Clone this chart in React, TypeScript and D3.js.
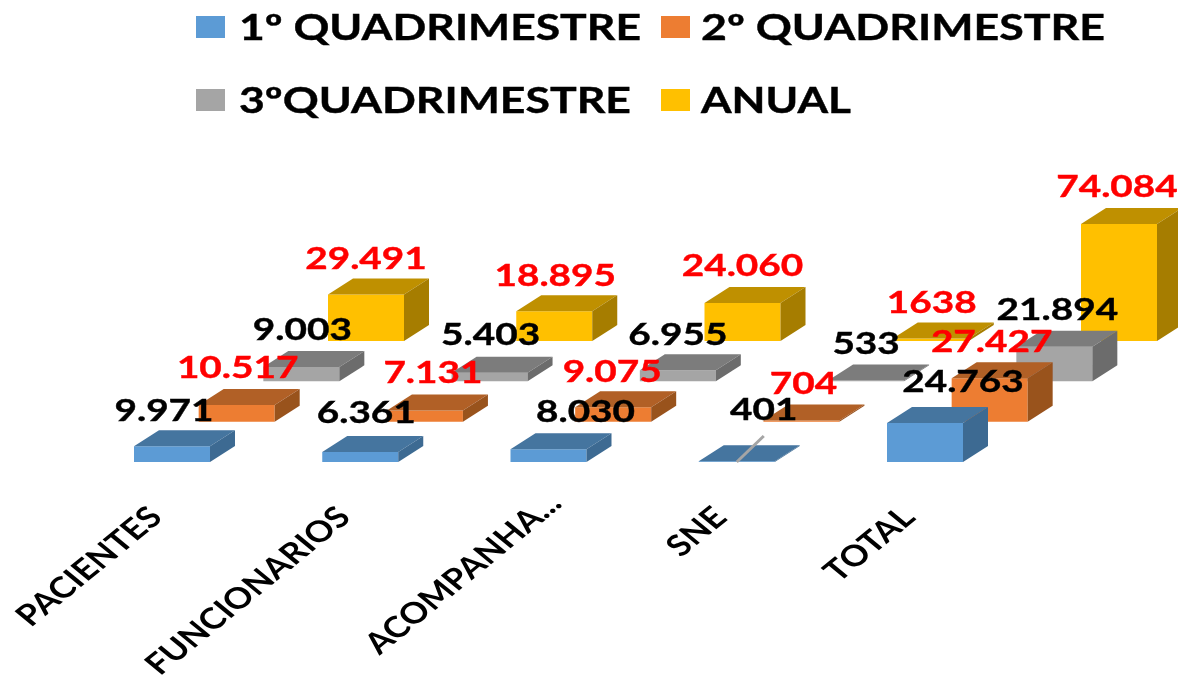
import React from "react";
import * as d3 from "d3";

const categories = ["PACIENTES", "FUNCIONARIOS", "ACOMPANHA...", "SNE", "TOTAL"];
const seriesNames = ["1º QUADRIMESTRE", "2º QUADRIMESTRE", "3ºQUADRIMESTRE", "ANUAL"];
const q1 = [9971, 6361, 8030, 401, 24763];
const q2 = [10517, 7131, 9075, 704, 27427];
const q3 = [9003, 5403, 6955, 533, 21894];
const anual = [29491, 18895, 24060, 1638, 74084];
const q1Labels = ["9.971", "6.361", "8.030", "401", "24.763"];
const q2Labels = ["10.517", "7.131", "9.075", "704", "27.427"];
const q3Labels = ["9.003", "5.403", "6.955", "533", "21.894"];
const anualLabels = ["29.491", "18.895", "24.060", "1638", "74.084"];

const values = [q1, q2, q3, anual];
const labels = [q1Labels, q2Labels, q3Labels, anualLabels];

const palette = [
  { front: "#5B9BD5", top: "#44749F", side: "#3C6A92", label: "#000" },
  { front: "#ED7D31", top: "#B16025", side: "#99521F", label: "#FF0000" },
  { front: "#A5A5A5", top: "#7C7C7C", side: "#6C6C6C", label: "#000" },
  { front: "#FFC000", top: "#BF9000", side: "#A67D00", label: "#FF0000" },
];

// layout of the pseudo-3D plot
const x0 = d3.scaleLinear().domain([0, 4]).range([134, 887]);
const depthX = d3.scaleLinear().domain([0, 3]).range([0, 194]);
const depthY = d3.scaleLinear().domain([0, 3]).range([462, 341]);
const h = d3.scaleLinear().domain([0, 74084]).range([0, 117]);
const BAR_W = 76;
const DX = 25;
const DY = 16;

// centre of each data label, relative to the top-front-centre of its bar
const labelDx = [
  [-8, 6, 37, 27, 38],
  [1, 8, -1, 2, 2],
  [1, 1, 0, 0, 3],
  [0, 1, 0, 1, -2],
];
const labelDy = [
  [-36, -40, -38, -52, -42],
  [-38, -38, -36, -38, -37],
  [-38, -39, -36, -37, -38],
  [-36, -36, -38, -36, -38],
];

const legendX = [196, 661, 196, 661];
const legendY = [16, 16, 89, 89];
const legendTextDx = [43, 40, 43, 40];
const legendWidths = [402, 404, 392, 150];

const poly = d3.line<[number, number]>();

function Bar({ s, c }: { s: number; c: number }) {
  const x = x0(c) + depthX(s);
  const base = depthY(s);
  const top = base - h(values[s][c]);
  const col = palette[s];
  const r = x + BAR_W;
  return (
    <g>
      <path d={poly([[x, base], [r, base], [r, top], [x, top]]) + "Z"} fill={col.front} />
      <path
        d={poly([[x, top], [r, top], [r + DX, top - DY], [x + DX, top - DY]]) + "Z"}
        fill={col.top}
      />
      <path
        d={poly([[r, base], [r + DX, base - DY], [r + DX, top - DY], [r, top]]) + "Z"}
        fill={col.side}
      />
    </g>
  );
}

const fontFamily = "Lato, 'Open Sans', sans-serif";

export default function App() {
  const order = d3.range(3, -1, -1);
  return (
    <svg
      width={1178}
      height={676}
      viewBox="0 0 1178 676"
      style={{ position: "absolute", left: 0, top: 0, background: "#fff" }}
    >
      <defs>
        <filter id="soft" x="-5%" y="-5%" width="110%" height="110%">
          <feGaussianBlur stdDeviation="0.6" />
        </filter>
      </defs>
      <g filter="url(#soft)">
        {seriesNames.map((n, i) => (
          <g key={n}>
            <rect x={legendX[i]} y={legendY[i]} width={29} height={22} fill={palette[i].front} />
            <text
              x={legendX[i] + legendTextDx[i]}
              y={legendY[i] + 24}
              fontFamily={fontFamily}
              fontWeight={700}
              fontSize={36}
              textLength={legendWidths[i]}
              lengthAdjust="spacingAndGlyphs"
              fill="#000"
              stroke="#000"
              strokeWidth={0.4}
            >
              {n}
            </text>
          </g>
        ))}

        {order.map((s) => (
          <g key={s}>
            {categories.map((_, c) => (
              <Bar key={c} s={s} c={c} />
            ))}
          </g>
        ))}

        {(() => {
          // leader line of the SNE first-quarter label
          const cx = x0(3) + BAR_W / 2;
          const by = depthY(0);
          return (
            <line x1={cx} y1={by} x2={cx + 27} y2={by - 26} stroke="#A5A5A5" strokeWidth={3} />
          );
        })()}

        {order.map((s) =>
          categories.map((_, c) => {
            const cx = x0(c) + depthX(s) + BAR_W / 2 + labelDx[s][c];
            const ty = depthY(s) - h(values[s][c]) + labelDy[s][c] + 11;
            return (
              <text
                key={`${s}-${c}`}
                transform={`translate(${cx},${ty}) scale(1.25,1)`}
                textAnchor="middle"
                fontFamily={fontFamily}
                fontWeight={700}
                fontSize={31}
                fill={palette[s].label}
                stroke={palette[s].label}
                strokeWidth={0.4}
              >
                {labels[s][c]}
              </text>
            );
          })
        )}

        {categories.map((name, c) => {
          const tx = x0(c) + 30 + (c === 2 ? 23 : 0);
          const ty = c === 2 ? 505 : 519;
          return (
            <text
              key={name}
              transform={`translate(${tx},${ty}) scale(1.22,1) rotate(-45)`}
              textAnchor="end"
              fontFamily={fontFamily}
              fontWeight={700}
              fontSize={29.3}
              fill="#000"
            >
              {name}
            </text>
          );
        })}
      </g>
    </svg>
  );
}
